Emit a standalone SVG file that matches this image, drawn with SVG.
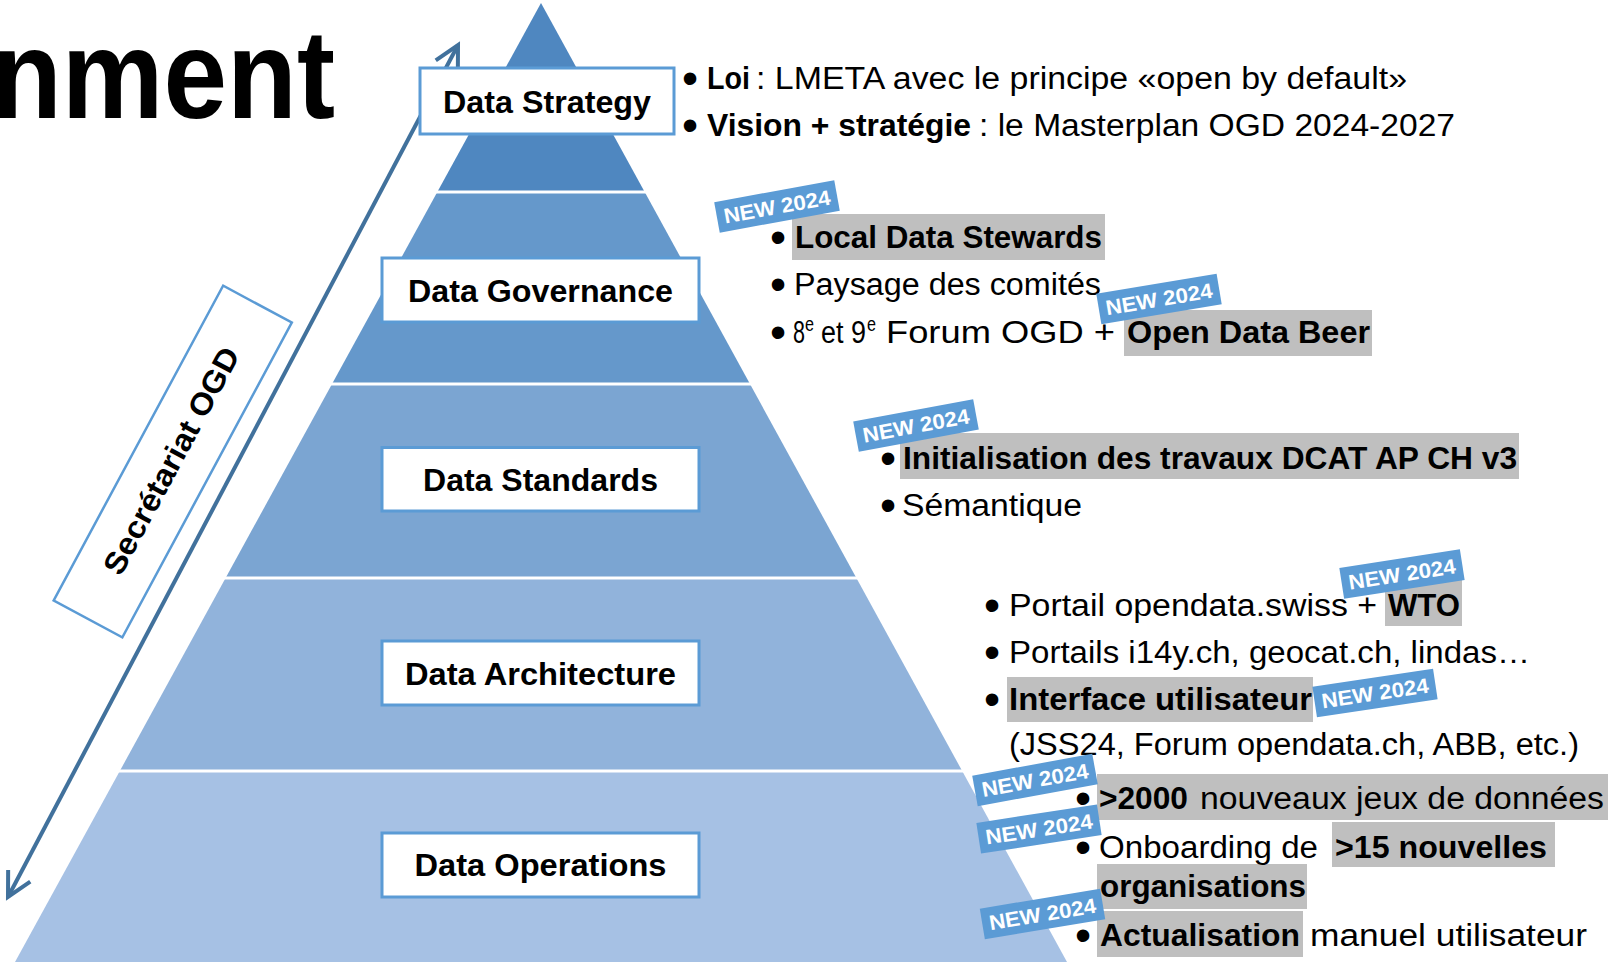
<svg xmlns="http://www.w3.org/2000/svg" width="1608" height="962" viewBox="0 0 1608 962">
<style>
.t{font-family:"Liberation Sans",Arial,sans-serif;font-size:31px;fill:#000}
.b{font-weight:bold}
.sup{font-family:"Liberation Sans",Arial,sans-serif;font-size:20px;fill:#000}
.bul{font-family:"Liberation Sans",Arial,sans-serif;font-size:46px;fill:#000}
.lbl{font-family:"Liberation Sans",Arial,sans-serif;font-size:32px;font-weight:bold;fill:#000;text-anchor:middle}
.box{fill:#fff;stroke:#5B9BD5;stroke-width:3}
.hl{fill:#BFBFBF}
.sep{stroke:#fff;stroke-width:3}
.tag rect{fill:#5B9BD5}
.tag text{font-family:"Liberation Sans",Arial,sans-serif;font-size:21px;font-weight:bold;fill:#fff;text-anchor:middle}
</style>
<defs>
<marker id="arr" markerUnits="userSpaceOnUse" markerWidth="40" markerHeight="40" viewBox="-30 -20 40 40" refX="0" refY="0" orient="auto-start-reverse">
<path d="M-24,-12.5 L0,0 L-24,12.5" fill="none" stroke="#41719C" stroke-width="4" stroke-linejoin="miter"/>
</marker>
</defs>
<rect width="1608" height="962" fill="#fff"/>
<text id="title" x="-8" y="118" font-family="'Liberation Sans',Arial,sans-serif" font-size="126" font-weight="bold" textLength="343" lengthAdjust="spacingAndGlyphs">nment</text>

<g id="connectors">
<line x1="458" y1="45" x2="8" y2="897" stroke="#41719C" stroke-width="4" marker-start="url(#arr)" marker-end="url(#arr)"/>
</g>

<g id="secretariat" transform="translate(172.75,461.5) rotate(-61.7)">
<rect x="-178.75" y="-39" width="357.5" height="78" fill="#fff" stroke="#5B9BD5" stroke-width="2.5"/>
<text x="0" y="9" font-family="'Liberation Sans',Arial,sans-serif" font-size="31" font-weight="bold" text-anchor="middle" textLength="253" lengthAdjust="spacingAndGlyphs">Secrétariat OGD</text>
</g>

<g id="layer-operations">
<polygon points="119.8,771 962.2,771 1067,962 15,962" fill="#A6C1E4"/>
<rect class="box" x="382" y="833" width="317" height="64"/>
<text class="lbl" x="540.5" y="876" textLength="252" lengthAdjust="spacingAndGlyphs">Data Operations</text>
</g>
<g id="layer-architecture">
<polygon points="225.6,578 856.4,578 962.2,771 119.8,771" fill="#91B3DB"/>
<rect class="box" x="382" y="641" width="317" height="64"/>
<text class="lbl" x="540.5" y="685" textLength="271" lengthAdjust="spacingAndGlyphs">Data Architecture</text>
</g>
<g id="layer-standards">
<polygon points="332,384 750,384 856.4,578 225.6,578" fill="#7BA5D2"/>
<rect class="box" x="382" y="447.5" width="317" height="63.5"/>
<text class="lbl" x="540.5" y="490.5" textLength="235" lengthAdjust="spacingAndGlyphs">Data Standards</text>
</g>
<g id="layer-governance">
<polygon points="437.3,192 644.7,192 750,384 332,384" fill="#6598CB"/>
<rect class="box" x="382" y="258" width="317" height="64"/>
<text class="lbl" x="540.5" y="302" textLength="265" lengthAdjust="spacingAndGlyphs">Data Governance</text>
</g>
<g id="layer-strategy">
<polygon points="541,3 644.7,192 437.3,192" fill="#4F87C0"/>
<rect class="box" x="420" y="68" width="254" height="66"/>
<text class="lbl" x="547" y="113" textLength="208" lengthAdjust="spacingAndGlyphs">Data Strategy</text>
</g>
<g id="separators">
<line class="sep" x1="435" y1="192" x2="647" y2="192"/>
<line class="sep" x1="330" y1="384" x2="752" y2="384"/>
<line class="sep" x1="223" y1="578" x2="859" y2="578"/>
<line class="sep" x1="117" y1="771" x2="965" y2="771"/>
</g>

<g id="text-strategy">
<text class="bul" x="682" y="94">•</text>
<text class="t b" x="707" y="89" textLength="43" lengthAdjust="spacingAndGlyphs">Loi</text>
<text class="t" x="756" y="89" textLength="651" lengthAdjust="spacingAndGlyphs">: LMETA avec le principe «open by default»</text>
<text class="bul" x="682" y="141">•</text>
<text class="t b" x="707" y="136" textLength="264" lengthAdjust="spacingAndGlyphs">Vision + stratégie</text>
<text class="t" x="979" y="136" textLength="476" lengthAdjust="spacingAndGlyphs">: le Masterplan OGD 2024-2027</text>
</g>

<g id="text-governance">
<rect class="hl" x="792" y="214" width="313" height="46"/>
<rect class="hl" x="1124" y="310" width="248" height="46"/>
<text class="bul" x="770" y="253">•</text>
<text class="t b" x="795" y="248" textLength="307" lengthAdjust="spacingAndGlyphs">Local Data Stewards</text>
<text class="bul" x="770" y="300">•</text>
<text class="t" x="794" y="295" textLength="307" lengthAdjust="spacingAndGlyphs">Paysage des comités</text>
<text class="bul" x="770" y="348">•</text>
<text class="t" x="793" y="343" textLength="12" lengthAdjust="spacingAndGlyphs">8</text>
<text class="sup" x="805" y="331" textLength="9" lengthAdjust="spacingAndGlyphs">e</text>
<text class="t" x="821" y="343" textLength="45" lengthAdjust="spacingAndGlyphs">et 9</text>
<text class="sup" x="867" y="331" textLength="9" lengthAdjust="spacingAndGlyphs">e</text>
<text class="t" x="886" y="343" textLength="229" lengthAdjust="spacingAndGlyphs">Forum OGD +</text>
<text class="t b" x="1127" y="343" textLength="243" lengthAdjust="spacingAndGlyphs">Open Data Beer</text>
</g>

<g id="text-standards">
<rect class="hl" x="900" y="433" width="619" height="46"/>
<text class="bul" x="880" y="474">•</text>
<text class="t b" x="903" y="469" textLength="614" lengthAdjust="spacingAndGlyphs">Initialisation des travaux DCAT AP CH v3</text>
<text class="bul" x="880" y="521">•</text>
<text class="t" x="902" y="516" textLength="180" lengthAdjust="spacingAndGlyphs">Sémantique</text>
</g>

<g id="text-architecture">
<rect class="hl" x="1385" y="580" width="77" height="46"/>
<rect class="hl" x="1007" y="677" width="306" height="45"/>
<text class="bul" x="984" y="621">•</text>
<text class="t" x="1009" y="616" textLength="368" lengthAdjust="spacingAndGlyphs">Portail opendata.swiss +</text>
<text class="t b" x="1388" y="616" textLength="72" lengthAdjust="spacingAndGlyphs">WTO</text>
<text class="bul" x="984" y="668">•</text>
<text class="t" x="1009" y="663" textLength="521" lengthAdjust="spacingAndGlyphs">Portails i14y.ch, geocat.ch, lindas…</text>
<text class="bul" x="984" y="715">•</text>
<text class="t b" x="1009" y="710" textLength="303" lengthAdjust="spacingAndGlyphs">Interface utilisateur</text>
<text class="t" x="1009" y="755" textLength="570" lengthAdjust="spacingAndGlyphs">(JSS24, Forum opendata.ch, ABB, etc.)</text>
</g>

<g id="text-operations">
<rect class="hl" x="1097" y="774" width="511" height="46"/>
<rect class="hl" x="1332" y="822" width="223" height="45"/>
<rect class="hl" x="1097" y="864" width="210" height="45"/>
<rect class="hl" x="1097" y="911" width="206" height="46"/>
<text class="bul" x="1075" y="814">•</text>
<text class="t b" x="1099" y="809" textLength="89" lengthAdjust="spacingAndGlyphs">&gt;2000</text>
<text class="t" x="1200" y="809" textLength="404" lengthAdjust="spacingAndGlyphs">nouveaux jeux de données</text>
<text class="bul" x="1075" y="863">•</text>
<text class="t" x="1099" y="858" textLength="219" lengthAdjust="spacingAndGlyphs">Onboarding de</text>
<text class="t b" x="1335" y="858" textLength="212" lengthAdjust="spacingAndGlyphs">&gt;15 nouvelles</text>
<text class="t b" x="1100" y="897" textLength="206" lengthAdjust="spacingAndGlyphs">organisations</text>
<text class="bul" x="1075" y="951">•</text>
<text class="t b" x="1100" y="946" textLength="200" lengthAdjust="spacingAndGlyphs">Actualisation</text>
<text class="t" x="1310" y="946" textLength="277" lengthAdjust="spacingAndGlyphs">manuel utilisateur</text>
</g>

<g id="tags">
<g class="tag" transform="translate(777,206.5) rotate(-10.3)"><rect x="-61" y="-15.5" width="122" height="31"/><text x="0" y="7.5" textLength="108" lengthAdjust="spacingAndGlyphs">NEW 2024</text></g>
<g class="tag" transform="translate(1159,299) rotate(-9.5)"><rect x="-61" y="-15.5" width="122" height="31"/><text x="0" y="7.5" textLength="108" lengthAdjust="spacingAndGlyphs">NEW 2024</text></g>
<g class="tag" transform="translate(916,425.5) rotate(-10.5)"><rect x="-61" y="-15.5" width="122" height="31"/><text x="0" y="7.5" textLength="108" lengthAdjust="spacingAndGlyphs">NEW 2024</text></g>
<g class="tag" transform="translate(1402,574) rotate(-8.9)"><rect x="-61" y="-15.5" width="122" height="31"/><text x="0" y="7.5" textLength="108" lengthAdjust="spacingAndGlyphs">NEW 2024</text></g>
<g class="tag" transform="translate(1375,693) rotate(-8.5)"><rect x="-61" y="-15.5" width="122" height="31"/><text x="0" y="7.5" textLength="108" lengthAdjust="spacingAndGlyphs">NEW 2024</text></g>
<g class="tag" transform="translate(1035,780) rotate(-10.3)"><rect x="-61" y="-15.5" width="122" height="31"/><text x="0" y="7.5" textLength="108" lengthAdjust="spacingAndGlyphs">NEW 2024</text></g>
<g class="tag" transform="translate(1039,829) rotate(-8.7)"><rect x="-61" y="-15.5" width="122" height="31"/><text x="0" y="7.5" textLength="108" lengthAdjust="spacingAndGlyphs">NEW 2024</text></g>
<g class="tag" transform="translate(1042.5,914) rotate(-9.4)"><rect x="-61" y="-15.5" width="122" height="31"/><text x="0" y="7.5" textLength="108" lengthAdjust="spacingAndGlyphs">NEW 2024</text></g>
</g>
</svg>
